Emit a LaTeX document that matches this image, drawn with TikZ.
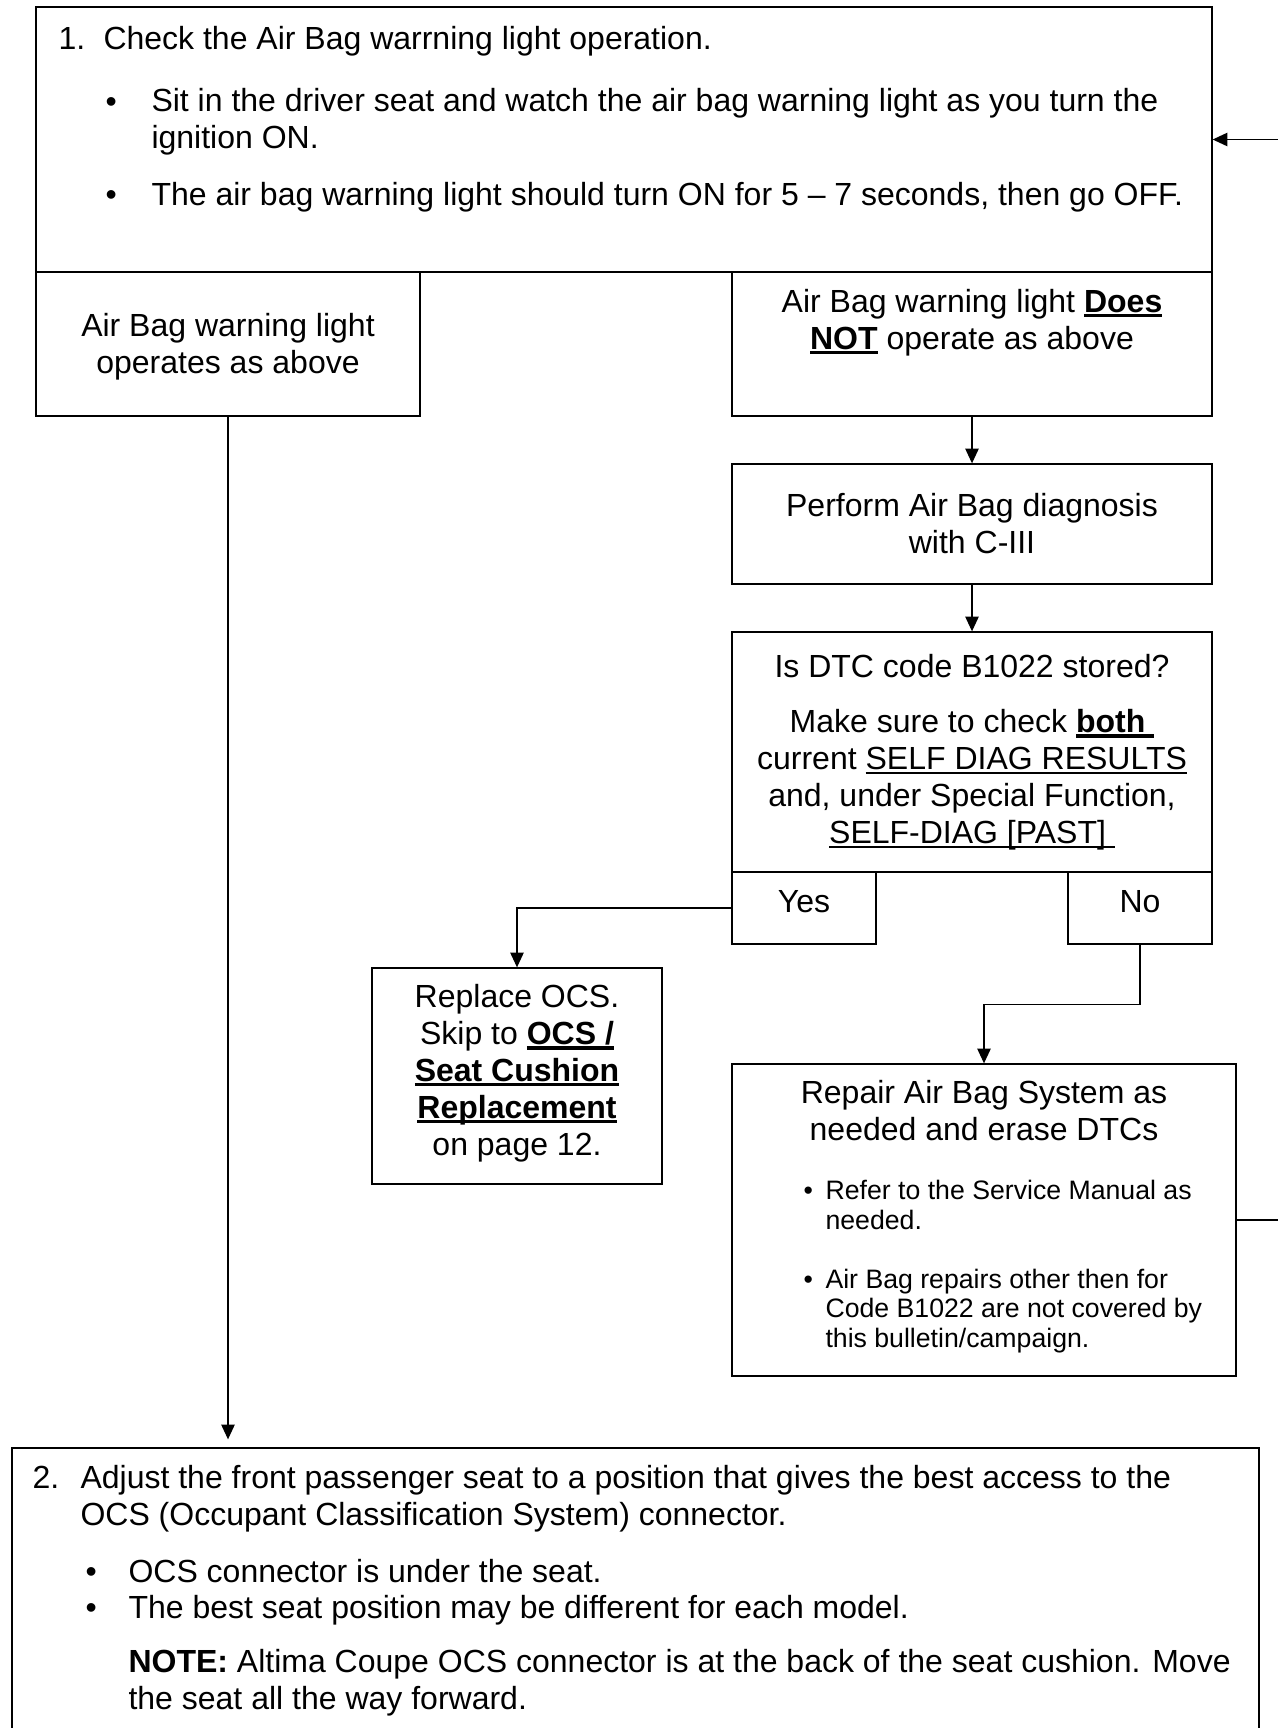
\documentclass[tikz,border=0pt]{standalone}
\usepackage{fontspec}
\setmainfont{Liberation Sans}
\usetikzlibrary{arrows.meta,positioning,calc,fit}
\newcommand{\px}{0.375pt}
\newcommand{\uln}[2][0.8pt]{\setbox0\hbox{#2}\rlap{\rule[-1.9pt]{\wd0}{#1}}\box0{}}
\newcommand{\ulb}[1]{\uln[1.2pt]{\textbf{#1}}}

\begin{document}
\begin{tikzpicture}[
  x=\px, y=-\px,
  font=\fontsize{12}{13.8}\selectfont,
  box/.style={draw, line width=0.5pt, inner sep=0pt},
  txt/.style={inner sep=0pt, anchor=base west},
  ctxt/.style={inner sep=0pt, anchor=base, align=center},
  small/.style={font=\fontsize{10}{11}\selectfont},
  ar/.style={-{Triangle[length=5.5pt,width=5pt]}, line width=0.5pt}
]
\useasboundingbox (0,0) rectangle (1278,1728);

% boxes
\node[box, fit={(36,7) (1212,272)}] (step1) {};
\node[box, fit={(36,272) (420,416)}] (ok) {};
\node[box, fit={(732,272) (1212,416)}] (notok) {};
\node[box, fit={(732,464) (1212,584)}] (diag) {};
\node[box, fit={(732,632) (1212,872)}] (dtc) {};
\node[box, fit={(732,872) (876,944)}] (yes) {};
\node[box, fit={(1068,872) (1212,944)}] (no) {};
\node[box, fit={(372,968) (662,1184)}] (replace) {};
\node[box, fit={(732,1064) (1236,1376)}] (repair) {};
\node[box, fit={(12,1448) (1259,1790)}] (step2) {};

% step 1 (multi-line texts sit on their last baseline)
\node[txt] (n1) at (58,49) {1.};
\node[txt] (t1) at (103,49) {Check the Air Bag warrning light operation.};
\node[txt] (b1a) at (105,112) {\textbullet};
\node[txt, align=left] (t1a) at (151,148) {Sit in the driver seat and watch the air bag warning light as you turn the\\ignition ON.};
\node[txt] (b1b) at (105,205) {\textbullet};
\node[txt] (t1b) at (151,205) {The air bag warning light should turn ON for 5 \textendash{} 7 seconds, then go OFF.};

% branches
\node[ctxt] (okt) at (228,373) {Air Bag warning light\\operates as above};
\node[ctxt] (notokt) at (972,349) {Air Bag warning light \ulb{Does}\\\ulb{NOT} operate as above};
\node[ctxt] (diagt) at (972,553) {Perform Air Bag diagnosis\\with C-III};
\node[ctxt] (dtct) at (972,843) {Is DTC code B1022 stored?\\[6.8pt]
  Make sure to check \ulb{both\ }\\current \uln{SELF DIAG RESULTS}\\
  and, under Special Function,\\\uln{SELF-DIAG [PAST]\ }};
\node[ctxt] (yest) at (804,912) {Yes};
\node[ctxt] (not) at (1140,912) {No};
\node[ctxt] (replacet) at (517,1155) {Replace OCS.\\Skip to \ulb{OCS /}\\
  \ulb{Seat Cushion}\\\ulb{Replacement}\\on page 12.};
\node[ctxt] (repairt) at (984,1140) {Repair Air Bag System as\\needed and erase DTCs};
\node[txt, small] (b3a) at (803,1199) {\textbullet};
\node[txt, small, align=left] (t3a) at (825,1229) {Refer to the Service Manual as\\needed.};
\node[txt, small] (b3b) at (803,1288) {\textbullet};
\node[txt, small, align=left] (t3b) at (825,1347) {Air Bag repairs other then for\\Code B1022 are not covered by\\this bulletin/campaign.};

% step 2
\node[txt] (n2) at (32,1488) {2.};
\node[txt, align=left] (t2) at (80,1525) {Adjust the front passenger seat to a position that gives the best access to the\\OCS (Occupant Classification System) connector.};
\node[txt] (b2a) at (85,1582) {\textbullet};
\node[txt] (t2a) at (128,1582) {OCS connector is under the seat.};
\node[txt] (b2b) at (85,1618) {\textbullet};
\node[txt] (t2b) at (128,1618) {The best seat position may be different for each model.};
\node[txt, align=left] (t2c) at (128,1709) {\textbf{NOTE:} Altima Coupe OCS connector is at the back of the seat cushion. Move\\the seat all the way forward.};

% connectors
\draw[ar, shorten >=3pt] (ok.south) -- (ok.south |- step2.north);
\draw[ar] (notok) -- (diag);
\draw[ar] (diag) -- (dtc);
\draw[ar] (yes.west) -| (replace.north);
\draw[ar] (no.south) -- ++(0,60) -| (repair.north);
\draw[ar] (repair.east) -- ++(70,0) |- (step1.east);
\end{tikzpicture}
\end{document}
